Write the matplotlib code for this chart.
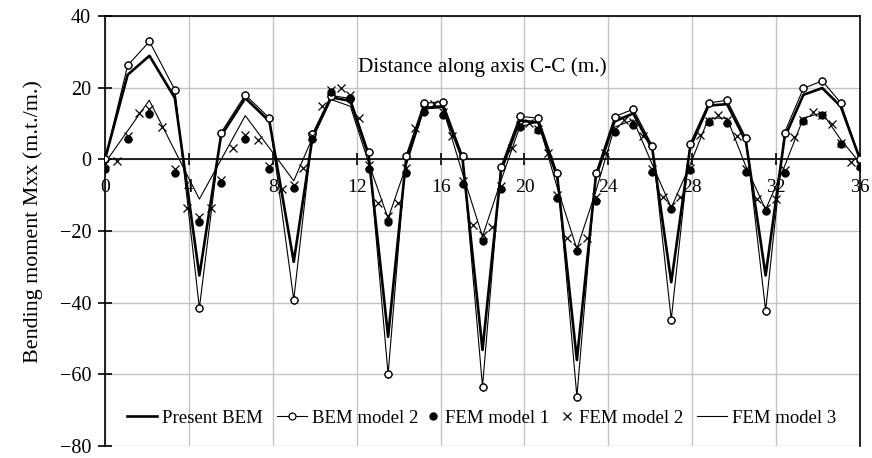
import matplotlib
matplotlib.use('Agg')
import matplotlib.pyplot as plt
from matplotlib.lines import Line2D

plt.rcParams['font.family'] = ['Liberation Serif', 'DejaVu Serif']
plt.rcParams['axes.unicode_minus'] = True

# ---------------- data ----------------
x_bem = [0, 1.08, 2.12, 3.33, 4.5, 5.53, 6.69, 7.84, 9.0,
         9.89, 10.78, 11.7, 12.57, 13.5,
         14.35, 15.2, 16.1, 17.05, 18.0,
         18.88, 19.77, 20.66, 21.57, 22.5,
         23.4, 24.3, 25.19, 26.1, 27.0,
         27.9, 28.78, 29.66, 30.56, 31.5,
         32.4, 33.3, 34.2, 35.08, 36.0]

present_bem = [0, 23.6, 28.9, 17.1, -32.4, 6.5, 17.1, 10.6, -28.6,
               6.0, 17.3, 16.3, 1.0, -49.5,
               -0.3, 14.3, 14.8, 0.0, -53.2,
               -3.3, 10.8, 10.3, -5.0, -56.0,
               -5.0, 10.6, 12.8, 2.8, -34.3,
               3.3, 15.0, 15.4, 5.0, -32.4,
               6.0, 18.0, 19.9, 14.8, 0.0]

bem_model2 = [0, 26.2, 32.9, 19.4, -41.5, 7.4, 18.0, 11.5, -39.2,
              7.1, 17.8, 17.0, 2.0, -60.0,
              0.9, 15.6, 16.1, 1.0, -63.4,
              -2.0, 12.0, 11.5, -3.9, -66.2,
              -3.9, 11.9, 14.0, 3.7, -44.7,
              4.4, 15.7, 16.5, 6.0, -42.2,
              7.4, 19.8, 21.9, 15.8, 0.0]

fem_model1 = [-2.8, 5.7, 12.7, -3.9, -17.4, -6.7, 5.8, -2.6, -8.1,
              5.7, 18.7, 16.9, -2.6, -17.6,
              -3.7, 13.1, 12.5, -7.0, -22.7,
              -8.4, 9.0, 8.1, -10.9, -25.7,
              -11.5, 7.6, 9.7, -3.4, -13.9,
              -3.1, 10.3, 10.2, -3.5, -14.5,
              -3.7, 10.6, 12.3, 4.4, -2.0]

x_fem2 = [0, 0.56, 1.08, 1.62, 2.11, 2.7, 3.32, 3.93, 4.5,
          5.04, 5.53, 6.12, 6.69, 7.28, 7.84, 8.43, 9.0,
          9.45, 9.89, 10.35, 10.78, 11.25, 11.7, 12.13, 12.57, 13.03, 13.5,
          13.97, 14.35, 14.77, 15.2, 15.69, 16.1, 16.56, 17.05, 17.55, 18.0,
          18.44, 18.88, 19.39, 19.77, 20.23, 20.66, 21.14, 21.57, 22.05, 22.5,
          22.97, 23.4, 23.84, 24.3, 24.75, 25.19, 25.64, 26.1, 26.59, 27.0,
          27.42, 27.9, 28.36, 28.78, 29.25, 29.66, 30.12, 30.56, 31.08, 31.5,
          32.0, 32.4, 32.86, 33.3, 33.75, 34.2, 34.65, 35.08, 35.56, 36.0]

fem_model2 = [-0.9, -0.6, 6.5, 13.0, 14.0, 9.0, -2.8, -13.6, -16.2,
              -13.6, -5.7, 3.1, 6.7, 5.3, -1.8, -8.3, -7.2,
              -2.3, 6.5, 14.8, 19.3, 19.9, 17.9, 11.6, -1.5, -12.2, -15.7,
              -12.2, -2.5, 8.7, 14.0, 15.5, 13.2, 6.5, -6.0, -18.3, -21.0,
              -18.8, -7.5, 3.2, 9.5, 10.2, 8.6, 1.9, -10.0, -22.0, -24.5,
              -22.0, -10.5, 1.9, 8.4, 11.1, 10.3, 6.5, -2.7, -10.4, -13.0,
              -10.4, -2.5, 6.9, 10.6, 12.5, 10.9, 6.5, -2.8, -11.1, -13.5,
              -11.1, -3.0, 6.3, 11.0, 13.1, 12.5, 10.0, 4.6, -0.7, -1.5]

x_fem3 = [0, 2.11, 4.5, 6.69, 9.0,
          9.89, 10.78, 11.7, 12.57, 13.5,
          14.35, 15.2, 16.1, 17.05, 18.0,
          18.88, 19.77, 20.66, 21.57, 22.5,
          23.4, 24.3, 25.19, 26.1, 27.0,
          27.9, 28.78, 29.66, 30.56, 31.5,
          32.4, 33.3, 34.2, 35.08, 36.0]

fem_model3 = [-1.0, 16.5, -11.1, 12.2, -6.0,
              6.0, 16.7, 14.8, -1.0, -16.5,
              -2.0, 14.0, 14.5, -4.0, -21.5,
              -6.0, 9.0, 10.5, -8.0, -25.0,
              -9.0, 9.0, 11.0, -1.5, -13.5,
              -1.5, 11.5, 11.5, -2.0, -14.0,
              -2.0, 11.5, 13.0, 5.5, -1.0]

x_ticks = [0, 4, 8, 12, 16, 20, 24, 28, 32, 36]
y_ticks = [-80, -60, -40, -20, 0, 20, 40]

series_labels = ['Present BEM', 'BEM model 2', 'FEM model 1', 'FEM model 2', 'FEM model 3']
x_title = 'Distance along axis C-C (m.)'
y_title = 'Bending moment Mxx (m.t./m.)'

# ---------------- figure ----------------
W, H = 872, 458
fig = plt.figure(figsize=(W / 100, H / 100), dpi=100)
ax = fig.add_axes([105 / W, 1 - 446 / H, 755 / W, 430 / H])

ax.set_xlim(0, 36)
ax.set_ylim(-80, 40)
ax.set_xticks(x_ticks)
ax.set_yticks(y_ticks)
ax.grid(True, color='#c4c4c4', lw=1.0, zorder=0)
ax.set_axisbelow(True)

# spines
for s in ['left', 'top', 'right']:
    ax.spines[s].set_linewidth(1.2)
    ax.spines[s].set_color('black')
ax.spines['bottom'].set_position(('data', 0))
ax.spines['bottom'].set_linewidth(1.2)

ax.tick_params(axis='x', direction='inout', length=8, width=1.2, pad=10,
               labelsize=14)
ax.tick_params(axis='y', direction='inout', length=10, width=1.2, pad=5,
               labelsize=14.5)

l3, = ax.plot(x_fem3, fem_model3, color='black', lw=0.8, zorder=2)
l2, = ax.plot(x_bem, bem_model2, color='black', lw=0.8, marker='o',
              markersize=5, markerfacecolor='white', markeredgecolor='black',
              markeredgewidth=0.9, zorder=3)
l1, = ax.plot(x_bem, present_bem, color='black', lw=1.9, zorder=4)
# redraw circles above the thick line
ax.plot(x_bem, bem_model2, ls='none', marker='o', markersize=5,
        markerfacecolor='white', markeredgecolor='black', markeredgewidth=0.9,
        zorder=5)
f1, = ax.plot(x_bem, fem_model1, ls='none', marker='o', markersize=5,
              color='black', zorder=6)
f2, = ax.plot(x_fem2, fem_model2, ls='none', marker='x', markersize=5.5,
              markeredgewidth=0.9, color='black', zorder=7)

ax.text(18, 25.8, x_title, ha='center', va='center', fontsize=15.3)
fig.text(33 / W, 1 - 222 / H, y_title, rotation=90, ha='center', va='center',
         fontsize=15.8)

# legend entries placed individually (one row)
fs = 13.5
em = fs * 100 / 72
entries = [
    (l1, series_labels[0], 127, 30),
    (l2, series_labels[1], 277, 30),
    (f1, series_labels[2], 426, 14),
    (f2, series_labels[3], 560, 14),
    (l3, series_labels[4], 697, 30),
]
ly = 1 - 418 / H
for h, lab, x0, hl in entries:
    leg = fig.legend([h], [lab], loc='center left',
                     bbox_to_anchor=(x0 / W, ly), bbox_transform=fig.transFigure,
                     frameon=False, borderpad=0, borderaxespad=0,
                     handlelength=hl / em, handletextpad=5 / em,
                     numpoints=1, fontsize=fs)

fig.savefig('out.png', dpi=100)
